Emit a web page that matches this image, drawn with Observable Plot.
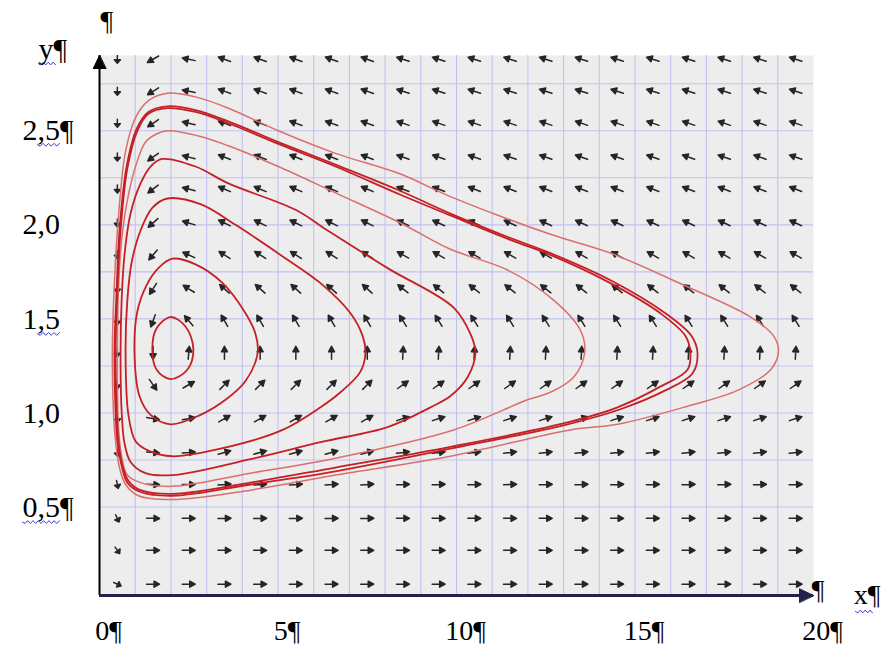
<!DOCTYPE html>
<html>
<head>
<meta charset="utf-8">
<script src="https://cdn.jsdelivr.net/npm/d3@7"></script>
<script src="https://cdn.jsdelivr.net/npm/@observablehq/plot@0.6"></script>
<style>
  html, body { margin: 0; padding: 0; background: #ffffff; }
  #chart { width: 884px; height: 650px; }
</style>
</head>
<body>
<div id="chart"></div>
<script>
// ---------- data ----------
const xDomain = [0, 20];
const yDomain = [0.03, 2.9];

const gridX = [1, 2, 3, 4, 5, 6, 7, 8, 9, 10, 11, 12, 13, 14, 15, 16, 17, 18, 19];
const gridY = [0.5, 0.75, 1.0, 1.25, 1.5, 1.75, 2.0, 2.25, 2.5, 2.75];

const xTicks = [0, 5, 10, 15, 20];
const xTickLabels = ["0¶", "5¶", "10¶", "15¶", "20¶"];
const yTicks = [0.5, 1.0, 1.5, 2.0, 2.5];
const yTickLabels = ["0,5¶", "1,0", "1,5", "2,0", "2,5¶"];

// direction field sample grid
const arrowCols = [0.5, 1.5, 2.5, 3.5, 4.5, 5.5, 6.5, 7.5, 8.5, 9.5, 10.5, 11.5, 12.5, 13.5, 14.5, 15.5, 16.5, 17.5, 18.5, 19.5];
const arrowRows = [2.88, 2.71, 2.54, 2.36, 2.19, 2.01, 1.84, 1.66, 1.49, 1.32, 1.15, 0.97, 0.79, 0.62, 0.44, 0.27, 0.09];
// arrow headings (degrees clockwise from "up"), one value per row, top to bottom
const angleCol1 = [180, 180, 180, 180, 180, 180, 180, 180, 180, 180, 178, 175, 172, 168, 155, 145, 115];
const angleCol2 = [240, 238, 236, 234, 232, 228, 220, 212, 200, 180, 145, 100, 95, 92, 91, 90, 90];
const angleCol3 = [282, 282, 283, 284, 285, 287, 295, 302, 320, 5, 60, 80, 86, 89, 90, 90, 90];
const angleMid  = [290, 290, 290, 292, 293, 296, 303, 312, 330, 0, 45, 60, 75, 86, 89, 90, 90];   // columns 4–8
const angleFar  = [288, 288, 289, 290, 292, 295, 300, 308, 328, 3, 55, 72, 83, 88, 90, 90, 90];   // columns 9–20

// closed trajectories (x, y)
const orbit1 = [[1.48,1.34],[1.60,1.45],[1.99,1.51],[2.41,1.46],[2.63,1.34],[2.46,1.23],[1.99,1.18],[1.60,1.23]];
const orbit2 = [[4.43,1.32],[4.09,1.17],[3.53,1.07],[2.83,0.99],[1.99,0.94],[1.43,0.99],[1.12,1.09],[0.98,1.33],[1.06,1.54],[1.32,1.68],[1.65,1.77],[2.04,1.82],[2.69,1.79],[3.45,1.69],[4.09,1.53],[4.37,1.42]];
const orbit3 = [[7.45,1.32],[7.31,1.22],[6.75,1.11],[6.19,1.03],[5.13,0.91],[3.61,0.82],[2.04,0.77],[1.37,0.80],[1.01,0.85],[0.81,0.99],[0.73,1.33],[0.78,1.60],[0.90,1.80],[1.15,1.97],[1.48,2.09],[1.90,2.14],[2.83,2.11],[3.81,2.00],[5.07,1.84],[6.19,1.69],[7.03,1.53],[7.37,1.41]];
const orbit4 = [[10.53,1.32],[10.31,1.19],[9.83,1.09],[9.27,1.03],[8.07,0.925],[6.19,0.845],[4.23,0.755],[2.04,0.67],[1.29,0.68],[0.87,0.74],[0.70,0.84],[0.62,1.01],[0.59,1.33],[0.62,1.60],[0.70,1.84],[0.87,2.06],[1.15,2.22],[1.43,2.31],[1.76,2.35],[2.69,2.31],[3.61,2.22],[5.49,2.08],[6.39,1.97],[8.07,1.77],[9.92,1.56],[10.39,1.42]];
const orbit5 = [[13.59,1.32],[13.28,1.19],[12.63,1.11],[11.99,1.07],[9.92,0.91],[6.61,0.76],[4.23,0.68],[2.04,0.61],[1.15,0.63],[0.78,0.67],[0.62,0.77],[0.53,0.93],[0.50,1.33],[0.53,1.65],[0.62,1.92],[0.78,2.13],[1.01,2.31],[1.29,2.44],[1.57,2.48],[1.90,2.50],[2.83,2.47],[3.61,2.42],[5.01,2.31],[6.61,2.17],[8.43,2.01],[9.83,1.87],[11.43,1.76],[12.72,1.60],[13.47,1.44]];
const orbit6 = [[16.55,1.32],[16.47,1.23],[15.71,1.14],[14.51,1.03],[13.11,0.95],[9.83,0.82],[6.61,0.71],[4.23,0.63],[2.04,0.57],[1.15,0.59],[0.81,0.64],[0.64,0.72],[0.53,0.85],[0.48,1.01],[0.45,1.33],[0.50,1.65],[0.59,1.97],[0.78,2.30],[1.06,2.50],[1.37,2.59],[1.90,2.62],[2.69,2.60],[3.61,2.54],[5.01,2.43],[6.61,2.31],[8.43,2.16],[9.83,2.05],[11.51,1.92],[12.63,1.84],[14.31,1.69],[15.71,1.53],[16.41,1.41]];
const orbit7 = [[16.75,1.32],[16.61,1.21],[15.85,1.12],[14.59,1.02],[13.11,0.94],[9.83,0.81],[6.61,0.69],[4.23,0.62],[2.04,0.56],[1.15,0.58],[0.78,0.63],[0.62,0.72],[0.50,0.85],[0.45,1.01],[0.42,1.33],[0.48,1.65],[0.56,1.97],[0.76,2.31],[1.04,2.51],[1.37,2.60],[1.90,2.63],[2.69,2.61],[3.61,2.55],[5.01,2.44],[6.61,2.32],[8.43,2.18],[9.83,2.06],[11.51,1.93],[12.63,1.85],[14.37,1.70],[15.85,1.53],[16.58,1.41]];
const orbit8 = [[19.02,1.33],[18.80,1.23],[17.87,1.12],[16.36,1.03],[14.51,0.94],[13.19,0.91],[9.83,0.77],[6.61,0.67],[4.23,0.59],[2.04,0.54],[1.09,0.56],[0.73,0.62],[0.56,0.71],[0.45,0.85],[0.39,1.01],[0.36,1.33],[0.42,1.70],[0.53,2.04],[0.73,2.39],[1.01,2.57],[1.37,2.66],[1.90,2.70],[2.69,2.68],[3.61,2.62],[5.01,2.50],[6.61,2.38],[8.43,2.27],[9.83,2.15],[12.63,1.95],[14.31,1.85],[16.36,1.68],[18.24,1.51],[18.88,1.41]];

const orbitNames = ["o1", "o2", "o3", "o4", "o5", "o6", "o7", "o8"];
const orbitPoints = [orbit1, orbit2, orbit3, orbit4, orbit5, orbit6, orbit7, orbit8];

// ---------- tables built from the arrays ----------
const orbitTable = orbitPoints.flatMap((pts, k) => pts.map(([x, y]) => ({orbit: orbitNames[k], x, y})));
const lightOrbits = new Set(["o5", "o8"]);

const arrowTable = [];
arrowRows.forEach((y, i) => {
  arrowCols.forEach((x, j) => {
    const angle = j === 0 ? angleCol1[i] : j === 1 ? angleCol2[i] : j === 2 ? angleCol3[i] : j < 8 ? angleMid[i] : angleFar[i];
    arrowTable.push({x, y, angle, col: j});
  });
});

const ink = "#262626";
const arrowShape = {
  draw(context, l) {
    const h = Math.min(5.5, l * 0.45), w = 3;
    context.moveTo(0, 0);
    context.lineTo(0, -l + h);
    context.moveTo(0, -l);
    context.lineTo(-w, -l + h);
    context.lineTo(w, -l + h);
    context.closePath();
  }
};
const triShape = {
  draw(context, l) {
    context.moveTo(0, -l);
    context.lineTo(-l * 0.48, 0);
    context.lineTo(l * 0.48, 0);
    context.closePath();
  }
};
// spell-check style wavy underline, drawn along the vector direction
const waveShape = {
  draw(context, l) {
    const n = Math.max(2, Math.round(l / 2.6));
    context.moveTo(0, 0);
    for (let k = 1; k <= n; k++) context.lineTo(k % 2 ? 1.4 : -1.4, -k * l / n);
  }
};

const serif = "'Liberation Serif', 'Times New Roman', serif";
const squiggle = "#3b3bd0";

function build(custom) {
  const vShape = custom ? {shape: arrowShape} : {};
  const tShape = custom ? {shape: triShape} : {};
  const waves = custom ? [
    Plot.vector([{x: xDomain[0], y: yDomain[1]}], {x: "x", y: "y", rotate: 90, length: 17, anchor: "start", dx: -61, dy: 8, stroke: squiggle, strokeWidth: 1, shape: waveShape}),
    Plot.vector([{x: xDomain[0], y: yTicks[4]}], {x: "x", y: "y", rotate: 90, length: 22, anchor: "start", dx: -62, dy: 14, stroke: squiggle, strokeWidth: 1, shape: waveShape}),
    Plot.vector([{x: xDomain[0], y: yTicks[2]}], {x: "x", y: "y", rotate: 90, length: 22, anchor: "start", dx: -62, dy: 15, stroke: squiggle, strokeWidth: 1, shape: waveShape}),
    Plot.vector([{x: xDomain[0], y: yTicks[0]}], {x: "x", y: "y", rotate: 90, length: 37, anchor: "start", dx: -77, dy: 15, stroke: squiggle, strokeWidth: 1, shape: waveShape}),
    Plot.vector([{x: xDomain[1], y: yDomain[0]}], {x: "x", y: "y", rotate: 90, length: 17, anchor: "start", dx: 42, dy: 16, stroke: squiggle, strokeWidth: 1, shape: waveShape})
  ] : [];
  return Plot.plot({
    width: 884,
    height: 650,
    marginLeft: 99,
    marginRight: 71,
    marginTop: 55,
    marginBottom: 55,
    x: {domain: xDomain, axis: null},
    y: {domain: yDomain, axis: null},
    style: {background: "#ffffff", fontFamily: serif, overflow: "visible"},
    marks: [
      Plot.frame({fill: "#ededed", stroke: null}),
      Plot.ruleX(gridX, {stroke: "#c2c2f2", strokeWidth: 1.1}),
      Plot.ruleY(gridY, {stroke: "#c2c2f2", strokeWidth: 1.1}),
      // direction field
      Plot.vector(arrowTable.filter(d => d.col === 0), {
        x: "x", y: "y", rotate: "angle", length: 8, anchor: "middle",
        stroke: ink, fill: custom ? ink : "none", strokeWidth: 1.5, clip: true, ...vShape
      }),
      Plot.vector(arrowTable.filter(d => d.col > 0), {
        x: "x", y: "y", rotate: "angle", length: 13, anchor: "middle",
        stroke: ink, fill: custom ? ink : "none", strokeWidth: 1.5, clip: true, ...vShape
      }),
      // trajectories
      Plot.line(orbitTable.filter(d => lightOrbits.has(d.orbit)), {
        x: "x", y: "y", z: "orbit", curve: "catmull-rom-closed",
        stroke: "#dc6e6e", strokeWidth: 1.5
      }),
      Plot.line(orbitTable.filter(d => !lightOrbits.has(d.orbit)), {
        x: "x", y: "y", z: "orbit", curve: "catmull-rom-closed",
        stroke: "#c42026", strokeWidth: 1.8
      }),
      // axes
      Plot.ruleX([xDomain[0]], {stroke: "#000000", strokeWidth: 2}),
      Plot.ruleY([yDomain[0]], {stroke: "#22224a", strokeWidth: 3}),
      Plot.vector([{x: xDomain[0], y: yDomain[1]}], {
        x: "x", y: "y", rotate: 0, length: 13, anchor: "end",
        stroke: "#000000", fill: "#000000", strokeWidth: 1, ...tShape
      }),
      Plot.vector([{x: xDomain[1], y: yDomain[0]}], {
        x: "x", y: "y", rotate: 90, length: 14, anchor: "end",
        stroke: "#22224a", fill: "#22224a", strokeWidth: 1, ...tShape
      }),
      // tick labels
      Plot.text(xTicks, {
        x: d => d, y: () => yDomain[0], text: (d, i) => xTickLabels[i],
        dy: 36, dx: 9, fontSize: 28, fill: "#000000", textAnchor: "middle"
      }),
      Plot.text(yTicks, {
        x: () => xDomain[0], y: d => d, text: (d, i) => yTickLabels[i],
        dx: -77, fontSize: 30, fill: "#000000", textAnchor: "start"
      }),
      // axis names and pilcrows
      Plot.text(["y¶"], {frameAnchor: "top-left", dx: -61, dy: -18, fontSize: 30, fill: "#000000"}),
      Plot.text(["¶"], {frameAnchor: "top-left", dx: 1, dy: -45, fontSize: 28, fill: "#000000"}),
      Plot.text(["x¶"], {frameAnchor: "bottom-right", dx: 67, dy: 8, fontSize: 28, fill: "#000000"}),
      Plot.text(["¶"], {frameAnchor: "bottom-right", dx: 11, dy: 3, fontSize: 28, fill: "#000000"}),
      ...waves
    ]
  });
}

let chart;
try {
  chart = build(true);
} catch (e) {
  console.error("custom shape failed, falling back", e);
  chart = build(false);
}
document.getElementById("chart").appendChild(chart);
</script>
</body>
</html>
